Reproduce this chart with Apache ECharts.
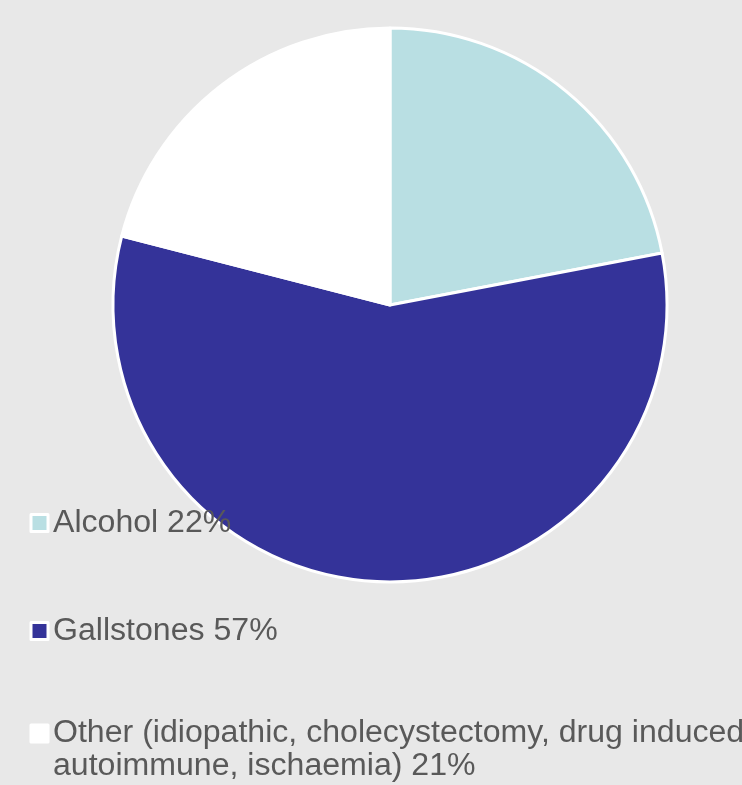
<!DOCTYPE html>
<html>
<head>
<meta charset="utf-8">
<script src="https://cdn.jsdelivr.net/npm/echarts@6/dist/echarts.min.js"></script>
<style>
html,body{margin:0;padding:0;background:#e8e8e8;}
#chart{width:742px;height:785px;}
</style>
</head>
<body>
<div id="chart"></div>
<script>
var categories = ['Alcohol', 'Gallstones', 'Other (idiopathic, cholecystectomy, drug induced,\nautoimmune, ischaemia)'];
var values = [22, 57, 21];
var colors = ['#b9dfe3', '#343399', '#ffffff'];

var chart = echarts.init(document.getElementById('chart'));
var data = categories.map(function (c, i) {
  return { name: c, value: values[i], itemStyle: { color: colors[i] } };
});
function legendFor(i, top, prefix) {
  return {
    orient: 'vertical',
    left: 29.5,
    top: top,
    padding: 0,
    icon: 'rect',
    itemWidth: 17,
    itemHeight: 17,
    itemStyle: { borderColor: '#ffffff', borderWidth: 3 },
    data: [categories[i]],
    formatter: function (n) { return prefix + n + ' ' + values[i] + '%'; },
    textStyle: {
      fontFamily: 'Liberation Sans, Arial, sans-serif',
      fontSize: 32.1,
      color: '#595959',
      lineHeight: 33
    }
  };
}
chart.setOption({
  backgroundColor: '#e8e8e8',
  animation: false,
  legend: [
    legendFor(0, 506.5, ''),
    legendFor(1, 614.5, ''),
    legendFor(2, 684, '\n')
  ],
  series: [{
    type: 'pie',
    center: [390, 305],
    radius: 277,
    startAngle: 90,
    clockwise: true,
    label: { show: false },
    labelLine: { show: false },
    emphasis: { disabled: true },
    itemStyle: { borderColor: '#ffffff', borderWidth: 3 },
    data: data
  }]
});
</script>
</body>
</html>
